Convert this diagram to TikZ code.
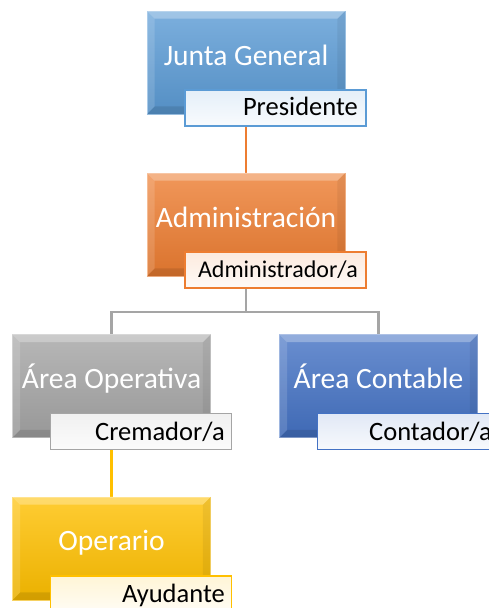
\documentclass[tikz,border=0pt]{standalone}
\usepackage{fontspec}
\setmainfont{Carlito}
\usetikzlibrary{backgrounds}
\definecolor{cJunta}{HTML}{5B9BD5}
\definecolor{cAdm}{HTML}{ED7D31}
\definecolor{cGray}{HTML}{A5A5A5}
\definecolor{cCont}{HTML}{4472C4}
\definecolor{cGold}{HTML}{FFC000}
\tikzset{
  orgbox/.style={rectangle, minimum width=198pt, minimum height=103pt, inner sep=0pt,
    top color=#1!80!white, bottom color=#1!92!black, draw=#1!60!white, line width=0.6pt},
  orgtext/.style={text=white, font=\fontsize{29.5}{31}\selectfont, inner sep=0pt, anchor=base},
  rolebox/.style={rectangle, minimum width=181pt, minimum height=36pt, inner sep=0pt,
    top color=#1!16!white, bottom color=#1!4!white, draw=#1, line width=1.1pt},
  roletext/.style={text=black, font=\fontsize{26.5}{28}\selectfont, inner sep=0pt, anchor=base east},
  link/.style={line width=2.6pt, draw=#1},
}
\newcommand{\bevelit}[1]{%
  \fill[white,opacity=.28] (#1.north west) -- (#1.north east) -- ([shift={(-8,8)}]#1.north east) -- ([shift={(8,8)}]#1.north west) -- cycle;
  \fill[white,opacity=.14] (#1.north west) -- ([shift={(8,8)}]#1.north west) -- ([shift={(8,-8)}]#1.south west) -- (#1.south west) -- cycle;
  \fill[black,opacity=.06] (#1.north east) -- ([shift={(-8,8)}]#1.north east) -- ([shift={(-8,-8)}]#1.south east) -- (#1.south east) -- cycle;
  \fill[black,opacity=.10] (#1.south west) -- ([shift={(8,-8)}]#1.south west) -- ([shift={(-8,-8)}]#1.south east) -- (#1.south east) -- cycle;
}
\begin{document}
\begin{tikzpicture}[x=1pt, y=-1pt]
\useasboundingbox (0,0) rectangle (489,608);
% boxes
\node[orgbox=cJunta] (jg) at (246,62.5) {};
\bevelit{jg}
\node[orgtext] (jgt) at (246,65) {Junta General};
\node[rolebox=cJunta] (jgl) at (275.5,108) {};
\node[roletext] (jglt) at (358,115.5) {Presidente};

\node[orgbox=cAdm] (adm) at (246,224.5) {};
\bevelit{adm}
\node[orgtext] (admt) at (246,227) {Administración};
\node[rolebox=cAdm] (adml) at (275.5,270) {};
\node[roletext, font=\fontsize{24}{26}\selectfont] (admlt) at (358,277) {Administrador/a};

\node[orgbox=cGray] (ao) at (111.5,386) {};
\bevelit{ao}
\node[orgtext] (aot) at (111.5,388.5) {Área Operativa};
\node[rolebox=cGray] (aol) at (141,431.5) {};
\node[roletext] (aolt) at (225,440) {Cremador/a};

\node[orgbox=cCont] (ac) at (378.5,386) {};
\bevelit{ac}
\node[orgtext] (act) at (378.5,388.5) {Área Contable};
\node[rolebox=cCont] (acl) at (408,431.5) {};
\node[roletext] (aclt) at (492,440) {Contador/a};

\node[orgbox=cGold] (op) at (111.5,548.5) {};
\bevelit{op}
\node[orgtext] (opt) at (111.5,550.5) {Operario};
\node[rolebox=cGold] (opl) at (141,594) {};
\node[roletext] (oplt) at (225,602.5) {Ayudante};

\coordinate (hub) at (246,312);
\begin{scope}[on background layer]
  \draw[link=cAdm] (jg.south) -- (adm.north);
  \draw[link=cGray] (adm.south) -- (hub) -| (ao.north);
  \draw[link=cGray] (hub) -| (ac.north);
  \draw[link=cGold] (ao.south) -- (op.north);
\end{scope}
\end{tikzpicture}
\end{document}
